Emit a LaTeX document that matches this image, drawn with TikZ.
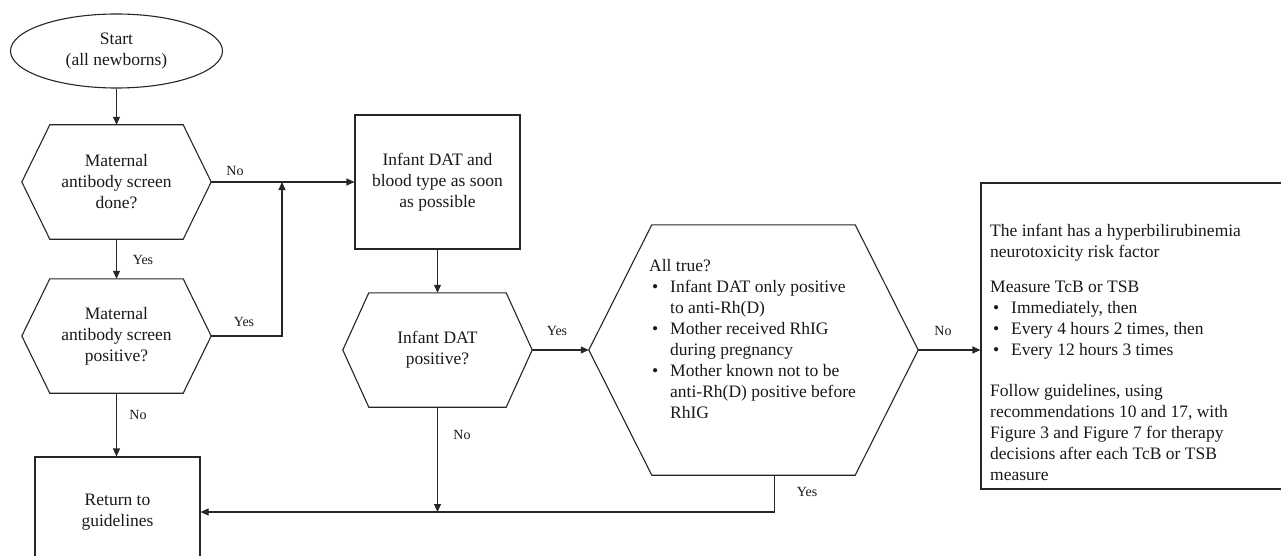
\documentclass[tikz,border=0pt]{standalone}
\usepackage{fontspec}
\setmainfont{Liberation Serif}
\usetikzlibrary{shapes.geometric,arrows.meta,positioning}

% outline of a decision node, #2 = how far the top and bottom edges are set in
\newcommand{\hexedge}[2]{%
  \draw[line] (#1.west) -- ([xshift=#2]#1.north west) -- ([xshift=-#2]#1.north east)
    -- (#1.east) -- ([xshift=-#2]#1.south east) -- ([xshift=#2]#1.south west) -- cycle;}
\newcommand{\itm}{\hspace*{3pt}\makebox[18pt][l]{\textbullet}}
\newcommand{\ind}{\hspace*{21pt}}

\begin{document}
\begin{tikzpicture}[
    x=1pt, y=-1pt,
    line/.style={draw=black!85, line width=1.1pt},
    arrow/.style={line, -{Triangle[length=8pt,width=7pt]}},
    txt/.style={font=\fontsize{17.5}{21}\selectfont, text=black!90, align=center, inner sep=0pt},
    box/.style={txt, rectangle, line},
    hex/.style={txt, rectangle},
    lbl/.style={font=\fontsize{14}{16}\selectfont, text=black!90, inner sep=0pt}
]
    \useasboundingbox (0,0) rectangle (1281,556);
    \clip (0,0) rectangle (1281,556);

    \node[box, ellipse, minimum width=212pt, minimum height=74pt] (start) at (116.5,51) {Start\\(all newborns)};
    \node[hex, minimum width=189pt, minimum height=114pt] (done) at (116.5,182) {Maternal\\antibody screen\\done?};
    \node[hex, minimum width=189pt, minimum height=114pt] (pos) at (116.5,336) {Maternal\\antibody screen\\positive?};
    \node[box, minimum width=165pt, minimum height=110pt] (ret) at (117.5,512) {Return to\\guidelines};
    \node[box, minimum width=165pt, minimum height=134pt] (dat) at (437.5,182) {Infant DAT and\\blood type as soon\\as possible};
    \node[hex, minimum width=189pt, minimum height=114pt] (datpos) at (437.5,350) {Infant DAT\\positive?};
    \node[hex, minimum width=329pt, minimum height=250pt] (alltrue) at (753.5,350) {};
    \node[txt, align=left, anchor=north west] (alltxt) at (649,259) {All true?\\
        \itm Infant DAT only positive\\ \ind to anti-Rh(D)\\
        \itm Mother received RhIG\\ \ind during pregnancy\\
        \itm Mother known not to be\\ \ind anti-Rh(D) positive before\\ \ind RhIG};
    \node[box, minimum width=303pt, minimum height=306pt] (risk) at (1132.5,336) {};
    \node[txt, align=left, anchor=north west] (risktxt) at (990,224) {The infant has a hyperbilirubinemia\\
        neurotoxicity risk factor\\[14pt]
        Measure TcB or TSB\\
        \itm Immediately, then\\
        \itm Every 4 hours 2 times, then\\
        \itm Every 12 hours 3 times\\[20pt]
        Follow guidelines, using\\
        recommendations 10 and 17, with\\
        Figure 3 and Figure 7 for therapy\\
        decisions after each TcB or TSB\\
        measure};

    \hexedge{done}{28pt}
    \hexedge{pos}{28pt}
    \hexedge{datpos}{26pt}
    \hexedge{alltrue}{63pt}

    \coordinate (join) at (282,182);

    \draw[arrow] (start) -- (done);
    \draw[arrow] (done) -- (pos);
    \draw[arrow] (done) -- (dat);
    \draw[arrow] (pos.east) -| (join);
    \draw[arrow] (pos.south) -- (pos.south |- ret.north);
    \draw[arrow] (dat) -- (datpos);
    \draw[arrow] (datpos) -- (alltrue);
    \draw[arrow] (datpos.south) -- (datpos.south |- ret.east);
    \draw[arrow] ([xshift=21pt]alltrue.south) |- (ret.east);
    \draw[arrow] (alltrue.east) -- (alltrue.east -| risk.west);

    \node[lbl] (l1) at (235,171) {No};
    \node[lbl] (l2) at (143,260) {Yes};
    \node[lbl] (l3) at (244,322) {Yes};
    \node[lbl] (l4) at (138,415) {No};
    \node[lbl] (l5) at (557,331) {Yes};
    \node[lbl] (l6) at (462,435) {No};
    \node[lbl] (l7) at (807,492) {Yes};
    \node[lbl] (l8) at (943,331) {No};
\end{tikzpicture}
\end{document}
